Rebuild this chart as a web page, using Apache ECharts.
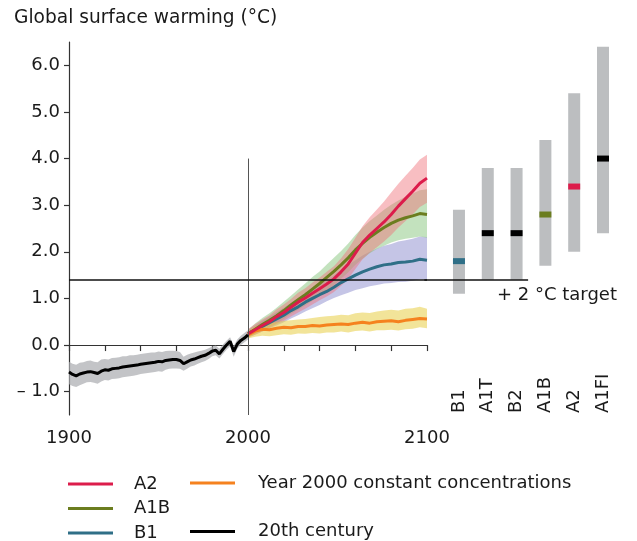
<!DOCTYPE html>
<html>
<head>
<meta charset="utf-8">
<script src="https://cdn.jsdelivr.net/npm/echarts@6/dist/echarts.min.js"></script>
<style>
  html, body { margin: 0; padding: 0; background: #fff; }
  #chart { width: 637px; height: 541px; }
</style>
</head>
<body>
<div id="chart"></div>
<script>
// ---- data ----
const yTicks = [-1, 0, 1, 2, 3, 4, 5, 6];
const xLabelYears = [1900, 2000, 2100];

// 20th century (every 2 years)
const histYears = [1900,1902,1904,1906,1908,1910,1912,1914,1916,1918,1920,1922,1924,1926,1928,1930,1932,1934,1936,1938,1940,1942,1944,1946,1948,1950,1952,1954,1956,1958,1960,1962,1964,1966,1968,1970,1972,1974,1976,1978,1980,1982,1984,1986,1988,1990,1992,1994,1996,1998,2000];
const histMean = [-0.58,-0.63,-0.66,-0.62,-0.60,-0.58,-0.57,-0.59,-0.61,-0.56,-0.53,-0.54,-0.51,-0.50,-0.49,-0.47,-0.46,-0.45,-0.44,-0.43,-0.41,-0.40,-0.39,-0.38,-0.37,-0.35,-0.36,-0.33,-0.32,-0.31,-0.31,-0.33,-0.40,-0.36,-0.32,-0.30,-0.27,-0.24,-0.22,-0.18,-0.13,-0.11,-0.19,-0.09,0.00,0.08,-0.14,0.02,0.10,0.15,0.22];
const histHigh = [-0.36,-0.40,-0.42,-0.38,-0.37,-0.34,-0.33,-0.36,-0.37,-0.31,-0.30,-0.31,-0.28,-0.27,-0.26,-0.24,-0.24,-0.22,-0.22,-0.21,-0.19,-0.18,-0.17,-0.16,-0.16,-0.14,-0.15,-0.13,-0.12,-0.12,-0.13,-0.15,-0.25,-0.21,-0.18,-0.16,-0.14,-0.12,-0.10,-0.07,-0.03,-0.01,-0.08,0.01,0.09,0.17,-0.02,0.12,0.20,0.26,0.32];
const histLow = [-0.84,-0.88,-0.90,-0.86,-0.83,-0.80,-0.79,-0.81,-0.83,-0.78,-0.75,-0.76,-0.73,-0.72,-0.71,-0.69,-0.68,-0.67,-0.66,-0.64,-0.62,-0.61,-0.60,-0.59,-0.58,-0.56,-0.57,-0.53,-0.51,-0.50,-0.50,-0.51,-0.55,-0.51,-0.46,-0.44,-0.40,-0.37,-0.34,-0.30,-0.24,-0.22,-0.29,-0.19,-0.10,-0.03,-0.25,-0.08,0.00,0.06,0.12];

// scenarios (every 4 years)
const futYears = [2000,2004,2008,2012,2016,2020,2024,2028,2032,2036,2040,2044,2048,2052,2056,2060,2064,2068,2072,2076,2080,2084,2088,2092,2096,2100];
const a2Mean = [0.24,0.33,0.42,0.50,0.61,0.70,0.81,0.92,1.01,1.11,1.21,1.31,1.42,1.57,1.74,1.97,2.20,2.36,2.50,2.64,2.80,2.98,3.14,3.30,3.47,3.58];
const a2High = [0.34,0.45,0.55,0.64,0.77,0.87,0.99,1.12,1.22,1.34,1.45,1.57,1.69,1.86,2.06,2.30,2.55,2.74,2.91,3.08,3.27,3.46,3.63,3.80,3.98,4.08];
const a2Low  = [0.15,0.22,0.29,0.36,0.45,0.52,0.61,0.70,0.78,0.87,0.96,1.04,1.14,1.27,1.42,1.63,1.84,1.98,2.10,2.22,2.36,2.52,2.66,2.80,2.96,3.05];
const a1bMean = [0.24,0.34,0.44,0.53,0.63,0.74,0.86,0.97,1.08,1.20,1.32,1.45,1.58,1.72,1.87,2.04,2.18,2.31,2.42,2.52,2.61,2.68,2.73,2.77,2.82,2.80];
const a1bHigh = [0.33,0.46,0.58,0.68,0.80,0.93,1.06,1.19,1.32,1.46,1.58,1.73,1.87,2.02,2.18,2.36,2.52,2.66,2.78,2.90,3.01,3.10,3.18,3.25,3.32,3.34];
const a1bLow  = [0.16,0.24,0.32,0.39,0.47,0.56,0.67,0.76,0.85,0.95,1.06,1.17,1.29,1.42,1.56,1.72,1.85,1.97,2.06,2.13,2.20,2.25,2.28,2.30,2.33,2.30];
const b1Mean = [0.24,0.32,0.40,0.48,0.56,0.64,0.74,0.82,0.92,1.00,1.08,1.15,1.24,1.34,1.42,1.50,1.57,1.63,1.68,1.72,1.74,1.77,1.78,1.80,1.84,1.82];
const b1High = [0.32,0.42,0.52,0.61,0.71,0.80,0.91,1.01,1.12,1.22,1.31,1.40,1.50,1.62,1.72,1.82,1.92,2.00,2.07,2.13,2.17,2.22,2.25,2.28,2.33,2.32];
const b1Low  = [0.17,0.22,0.29,0.36,0.42,0.49,0.57,0.64,0.72,0.79,0.86,0.94,1.01,1.07,1.12,1.18,1.22,1.26,1.29,1.32,1.33,1.35,1.36,1.38,1.41,1.40];
const constMean = [0.22,0.30,0.34,0.33,0.36,0.38,0.37,0.40,0.40,0.42,0.41,0.43,0.44,0.45,0.44,0.47,0.49,0.47,0.50,0.51,0.52,0.50,0.53,0.55,0.57,0.56];
const constHigh = [0.30,0.40,0.46,0.47,0.49,0.52,0.53,0.55,0.56,0.58,0.60,0.62,0.63,0.65,0.64,0.68,0.70,0.69,0.72,0.74,0.76,0.74,0.78,0.79,0.82,0.78];
const constLow  = [0.14,0.18,0.20,0.19,0.21,0.23,0.22,0.25,0.24,0.26,0.25,0.27,0.27,0.29,0.27,0.30,0.31,0.29,0.32,0.32,0.33,0.31,0.34,0.35,0.38,0.36];

// likely ranges at 2100 (right-hand bars)
const rangeNames = ['B1', 'A1T', 'B2', 'A1B', 'A2', 'A1FI'];
const rangeBest = [1.8, 2.4, 2.4, 2.8, 3.4, 4.0];
const rangeLow  = [1.1, 1.4, 1.4, 1.7, 2.0, 2.4];
const rangeHigh = [2.9, 3.8, 3.8, 4.4, 5.4, 6.4];

const targetLevel = 1.4;
const splitYear = 2000;
const splitTop = 4.0;

// ---- styling ----
const FONT = 'DejaVu Sans';
const TXT = '#1a1a1a';
const bestColors = ['#2f6f87', '#000000', '#000000', '#6b7d1f', '#dc1c4b', '#000000'];

const chart = echarts.init(document.getElementById('chart'));

const pairs = (xs, ys) => xs.map((x, i) => [x, ys[i]]);

// shaded spread between two curves, drawn as one polygon
function band(name, xs, lo, hi, fill) {
  return {
    name: name,
    type: 'custom',
    xAxisIndex: 0,
    yAxisIndex: 0,
    silent: true,
    z: 1,
    data: xs.map((x, i) => [x, lo[i], hi[i]]),
    encode: { x: 0, y: [1, 2] },
    renderItem: function (params, api) {
      if (params.dataIndex !== 0) return;
      const pts = [];
      for (let i = 0; i < xs.length; i++) pts.push(api.coord([xs[i], hi[i]]));
      for (let i = xs.length - 1; i >= 0; i--) pts.push(api.coord([xs[i], lo[i]]));
      return { type: 'polygon', shape: { points: pts }, style: { fill: fill } };
    }
  };
}

function meanLine(name, xs, ys, color, z) {
  return {
    name: name,
    type: 'line',
    xAxisIndex: 0,
    yAxisIndex: 0,
    data: pairs(xs, ys),
    color: color,
    showSymbol: false,
    symbol: 'none',
    lineStyle: { color: color, width: 3 },
    z: z
  };
}

const legendText = (padLeft) => ({
  fontFamily: FONT, fontSize: 18, color: TXT, lineHeight: 20, padding: [0, 0, 0, padLeft]
});

const option = {
  animation: false,
  backgroundColor: '#fff',
  textStyle: { fontFamily: FONT },
  title: {
    text: 'Global surface warming (°C)',
    left: 9,
    top: 4,
    textStyle: { fontFamily: FONT, fontSize: 18.6, fontWeight: 'normal', color: TXT }
  },
  legend: [
    {
      data: ['A2', 'A1B', 'B1'],
      orient: 'vertical',
      left: 68,
      top: 474,
      height: 100,
      padding: 0,
      icon: 'rect',
      itemWidth: 45,
      itemHeight: 3,
      itemGap: 4.5,
      selectedMode: false,
      textStyle: legendText(16)
    },
    {
      data: ['Year 2000 constant concentrations', '20th century'],
      orient: 'vertical',
      left: 190,
      top: 473,
      height: 100,
      padding: 0,
      icon: 'rect',
      itemWidth: 45,
      itemHeight: 3,
      itemGap: 28.6,
      selectedMode: false,
      textStyle: legendText(18)
    }
  ],
  grid: [
    { left: 69, top: 42, width: 358, height: 373 },
    { left: 424.4, top: 42, width: 207.4, height: 373 }
  ],
  xAxis: [
    {
      gridIndex: 0,
      type: 'value',
      min: 1900,
      max: 2100,
      interval: 20,
      axisLine: { lineStyle: { color: '#333', width: 1.2 } },
      axisTick: { length: 6, lineStyle: { color: '#333', width: 1.2 } },
      axisLabel: {
        customValues: xLabelYears,
        fontFamily: FONT, fontSize: 18, color: TXT, margin: 14,
        formatter: v => String(v)
      },
      splitLine: { show: false }
    },
    {
      gridIndex: 1,
      type: 'value',
      min: -1.2,
      max: 6,
      axisLine: { show: false },
      axisTick: { show: false },
      splitLine: { show: false },
      axisLabel: {
        customValues: rangeNames.map((n, i) => i),
        formatter: v => rangeNames[Math.round(v)] || '',
        rotate: 90,
        inside: true,
        margin: 2,
        fontFamily: FONT, fontSize: 18, color: TXT
      }
    }
  ],
  yAxis: [
    {
      gridIndex: 0,
      type: 'value',
      min: -1.5,
      max: 6.5,
      axisLine: { show: true, lineStyle: { color: '#333', width: 1.2 } },
      axisTick: { show: true, customValues: yTicks, length: 5, lineStyle: { color: '#333', width: 1.2 } },
      axisLabel: {
        customValues: yTicks,
        fontFamily: FONT, fontSize: 18, color: TXT, margin: 9,
        formatter: v => (v < 0 ? '\u2013 ' + Math.abs(v).toFixed(1) : v.toFixed(1))
      },
      splitLine: { show: false }
    },
    {
      gridIndex: 1,
      type: 'value',
      min: -1.5,
      max: 6.5,
      show: false,
      splitLine: { show: false }
    }
  ],
  graphic: [
    {
      type: 'text',
      left: 497,
      top: 286,
      style: { text: '+ 2 °C target', fontFamily: FONT, fontSize: 18, fill: TXT }
    }
  ],
  series: [
    band('20th century range', histYears, histLow, histHigh, 'rgba(170,171,175,0.7)'),
    band('B1 range', futYears, b1Low, b1High, 'rgba(140,140,205,0.5)'),
    band('A1B range', futYears, a1bLow, a1bHigh, 'rgba(135,198,125,0.5)'),
    band('A2 range', futYears, a2Low, a2High, 'rgba(240,110,120,0.45)'),
    band('Constant range', futYears, constLow, constHigh, 'rgba(232,205,70,0.55)'),
    meanLine('B1', futYears, b1Mean, '#2f6f87', 3),
    meanLine('A1B', futYears, a1bMean, '#6b7d1f', 3),
    meanLine('Year 2000 constant concentrations', futYears, constMean, '#f5821f', 3),
    meanLine('A2', futYears, a2Mean, '#dc1c4b', 4),
    Object.assign(meanLine('20th century', histYears, histMean, '#000000', 5), {
      markLine: {
        silent: true,
        symbol: 'none',
        label: { show: false },
        data: [
          [{ coord: [splitYear, -1.5] }, { coord: [splitYear, splitTop], lineStyle: { color: '#555', width: 1, type: 'solid' } }],
          [{ coord: [1900, targetLevel] }, { coord: [2100, targetLevel], lineStyle: { color: '#111', width: 1.5, type: 'solid' } }]
        ]
      }
    }),
    {
      name: 'likely range',
      type: 'custom',
      xAxisIndex: 1,
      yAxisIndex: 1,
      silent: true,
      z: 2,
      data: rangeNames.map((n, i) => [i, rangeLow[i], rangeHigh[i]]),
      encode: { x: 0, y: [1, 2] },
      renderItem: function (params, api) {
        const top = api.coord([api.value(0), api.value(2)]);
        const bot = api.coord([api.value(0), api.value(1)]);
        return {
          type: 'rect',
          shape: { x: top[0] - 6, y: top[1], width: 12, height: bot[1] - top[1] },
          style: { fill: '#bcbec0' }
        };
      }
    },
    {
      name: 'best estimate',
      type: 'scatter',
      xAxisIndex: 1,
      yAxisIndex: 1,
      silent: true,
      z: 3,
      symbol: 'rect',
      symbolSize: [12, 6],
      itemStyle: { opacity: 1 },
      data: rangeNames.map((n, i) => ({ value: [i, rangeBest[i]], itemStyle: { color: bestColors[i], opacity: 1 } })),
      markLine: {
        silent: true,
        symbol: 'none',
        label: { show: false },
        lineStyle: { color: '#111', width: 1.5, type: 'solid' },
        data: [[{ coord: [-1.2, targetLevel] }, { coord: [2.4, targetLevel] }]]
      }
    }
  ]
};

chart.setOption(option);
</script>
</body>
</html>
